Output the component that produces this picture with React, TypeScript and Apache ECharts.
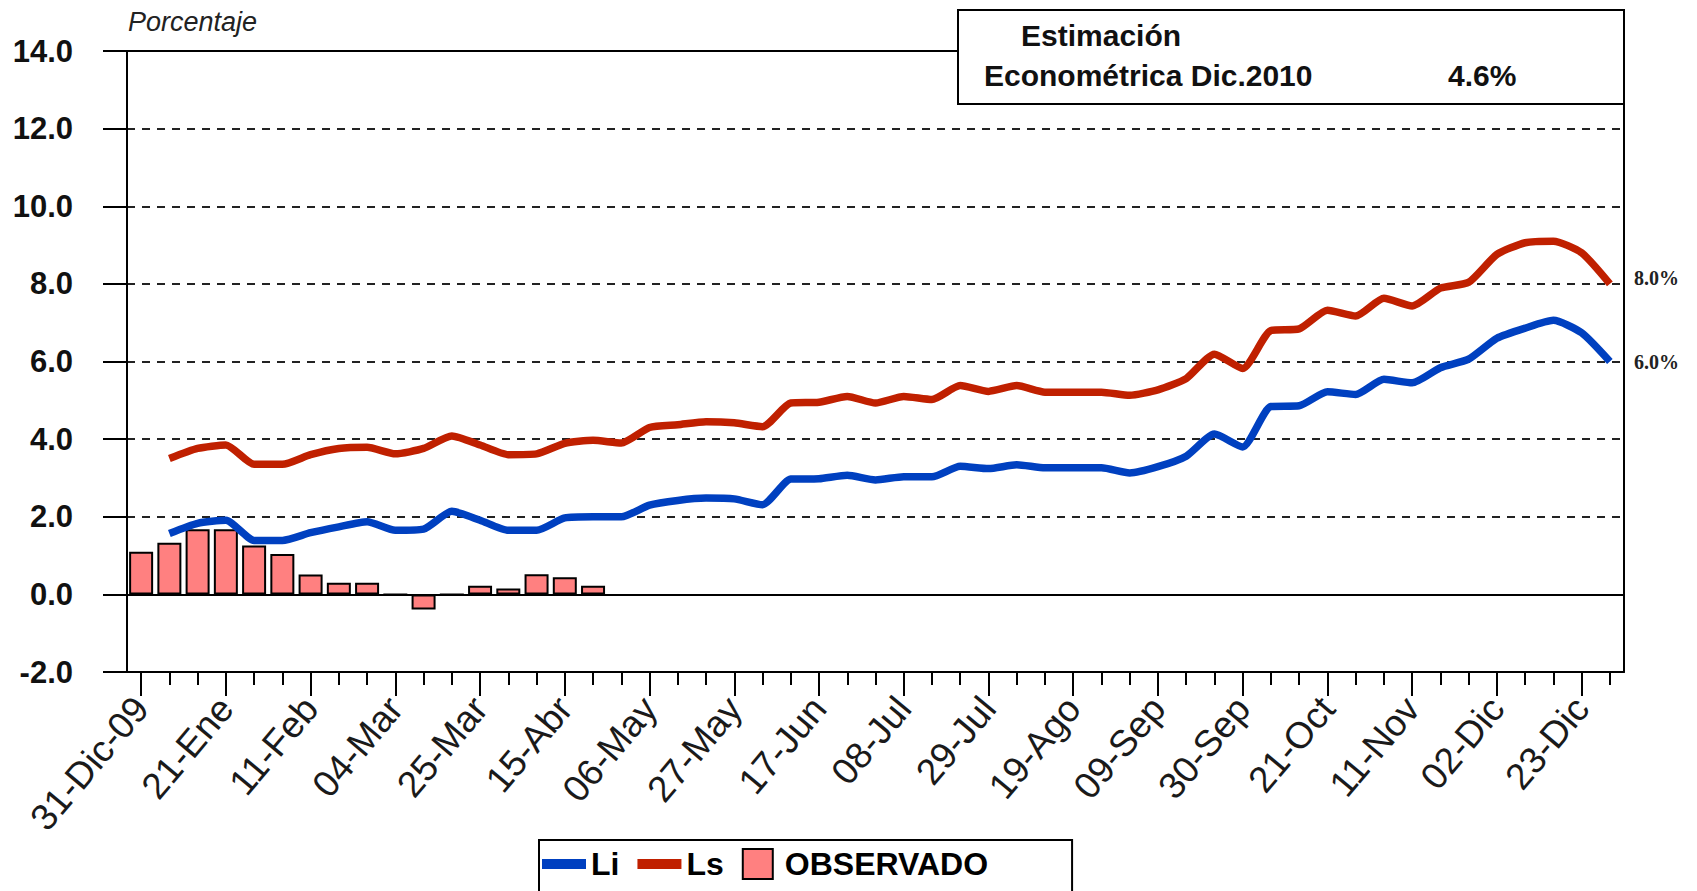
import React, { useEffect, useRef } from "react";
import * as echarts from "echarts";

const weeks = [
  "31-Dic-09", "07-Ene", "14-Ene", "21-Ene", "28-Ene", "04-Feb", "11-Feb", "18-Feb", "25-Feb",
  "04-Mar", "11-Mar", "18-Mar", "25-Mar", "01-Abr", "08-Abr", "15-Abr", "22-Abr", "29-Abr",
  "06-May", "13-May", "20-May", "27-May", "03-Jun", "10-Jun", "17-Jun", "24-Jun", "01-Jul",
  "08-Jul", "15-Jul", "22-Jul", "29-Jul", "05-Ago", "12-Ago", "19-Ago", "26-Ago", "02-Sep",
  "09-Sep", "16-Sep", "23-Sep", "30-Sep", "07-Oct", "14-Oct", "21-Oct", "28-Oct", "04-Nov",
  "11-Nov", "18-Nov", "25-Nov", "02-Dic", "09-Dic", "16-Dic", "23-Dic", "30-Dic",
];

const li = [
  null, 1.57, 1.83, 1.91, 1.39, 1.39, 1.59, 1.74, 1.87, 1.65, 1.68, 2.14, 1.91, 1.65, 1.65, 1.97,
  2.0, 2.0, 2.3, 2.42, 2.48, 2.46, 2.31, 2.97, 2.98, 3.07, 2.95, 3.03, 3.03, 3.3, 3.24, 3.34,
  3.26, 3.26, 3.26, 3.13, 3.29, 3.56, 4.13, 3.8, 4.84, 4.86, 5.22, 5.15, 5.54, 5.45, 5.84, 6.06,
  6.6, 6.86, 7.06, 6.74, 6.0,
];

const ls = [
  null, 3.5, 3.76, 3.85, 3.35, 3.35, 3.6, 3.76, 3.79, 3.62, 3.76, 4.08, 3.85, 3.6, 3.62, 3.89,
  3.97, 3.9, 4.3, 4.37, 4.45, 4.42, 4.32, 4.93, 4.95, 5.1, 4.93, 5.1, 5.02, 5.38, 5.23, 5.38,
  5.21, 5.21, 5.21, 5.13, 5.27, 5.56, 6.19, 5.82, 6.8, 6.84, 7.32, 7.17, 7.63, 7.43, 7.89, 8.04,
  8.76, 9.06, 9.1, 8.8, 8.0,
];

const observado = [
  1.1, 1.33, 1.68, 1.68, 1.26, 1.04, 0.51, 0.3, 0.3, 0, -0.39, 0, 0.22, 0.15, 0.52, 0.44, 0.22,
];

const yMin = -2;
const yMax = 14;
const yStep = 2;

const boxTitle = "Estimación";
const boxLine = "Econométrica Dic.2010";
const boxValue = "4.6%";
const yUnit = "Porcentaje";

const FONT = "'Liberation Sans', Arial, sans-serif";

export default function App() {
  const ref = useRef<HTMLDivElement>(null);

  useEffect(() => {
    document.body.style.margin = "0";
    const chart = echarts.init(ref.current as HTMLDivElement, null, { renderer: "svg" });
    const black = { color: "#000", width: 2 };
    const thinIcon = "path://M0 0H44V10H0Z";
    const squareIcon = "path://M0 0H10V10H0Z";

    const option: any = {
      animation: false,
      backgroundColor: "#fff",
      grid: { left: 127, right: 73, top: 51, bottom: 219, containLabel: false, outerBoundsMode: "none" },
      legend: {
        show: true,
        left: 539,
        top: 840,
        orient: "horizontal",
        itemWidth: 44,
        itemHeight: 30,
        itemGap: 18,
        padding: [8, 84, 40, 3],
        borderColor: "#000",
        borderWidth: 2,
        backgroundColor: "#fff",
        textStyle: { fontSize: 32, fontWeight: "bold", color: "#000", fontFamily: FONT },
        data: [
          { name: "Li", icon: thinIcon, itemStyle: { color: "#0040C0", borderWidth: 0 } },
          { name: "Ls", icon: thinIcon, itemStyle: { color: "#C02000", borderWidth: 0 } },
          { name: "OBSERVADO", icon: squareIcon, itemStyle: { color: "#FF8080", borderColor: "#000", borderWidth: 2 } },
        ],
      },
      xAxis: [
        {
          type: "category",
          data: weeks,
          boundaryGap: true,
          position: "bottom",
          axisLine: { show: true, onZero: false, lineStyle: black },
          axisTick: { show: true, alignWithLabel: true, interval: 2, length: 24, lineStyle: black },
          axisLabel: {
            interval: 2,
            rotate: 50,
            margin: 30,
            fontSize: 37,
            color: "#1a1a1a",
            fontFamily: FONT,
          },
          splitLine: { show: false },
        },
        {
          type: "category",
          data: weeks,
          boundaryGap: true,
          position: "bottom",
          axisLine: { show: false, onZero: false },
          axisTick: { show: true, alignWithLabel: true, interval: 0, length: 13, lineStyle: black },
          axisLabel: { show: false },
          splitLine: { show: false },
        },
        {
          type: "category",
          data: weeks,
          boundaryGap: true,
          position: "top",
          axisLine: { show: true, onZero: false, lineStyle: black },
          axisTick: { show: false },
          axisLabel: { show: false },
          splitLine: { show: false },
        },
      ],
      yAxis: [
        {
          type: "value",
          min: yMin,
          max: yMax,
          interval: yStep,
          position: "left",
          axisLine: { show: true, onZero: false, lineStyle: black },
          axisTick: { show: true, length: 24, lineStyle: black },
          axisLabel: {
            formatter: (v: number) => v.toFixed(1),
            fontSize: 31,
            fontWeight: "bold",
            margin: 54,
            color: "#111",
            fontFamily: FONT,
          },
          splitLine: { show: true, lineStyle: { type: [8, 7], color: "#222", width: 2 } },
        },
        {
          type: "value",
          min: yMin,
          max: yMax,
          interval: yStep,
          position: "right",
          axisLine: { show: true, onZero: false, lineStyle: black },
          axisTick: { show: false },
          axisLabel: { show: false },
          splitLine: { show: false },
        },
      ],
      series: [
        {
          name: "OBSERVADO",
          type: "bar",
          xAxisIndex: 0,
          yAxisIndex: 0,
          data: observado,
          barWidth: 24,
          itemStyle: { color: "#FF8080", borderColor: "#000", borderWidth: 2 },
          z: 2,
          markLine: {
            silent: true,
            symbol: ["none", "none"],
            label: { show: false },
            lineStyle: { type: "solid", color: "#000", width: 2 },
            data: [{ yAxis: 0 }],
          },
        },
        {
          name: "Li",
          type: "line",
          xAxisIndex: 0,
          yAxisIndex: 0,
          data: li,
          symbol: "none",
          smooth: 0.2,
          lineStyle: { color: "#0040C0", width: 7.5 },
          itemStyle: { color: "#0040C0" },
          z: 3,
          endLabel: {
            show: true,
            formatter: (p: any) => Number(p.value).toFixed(1) + "%",
            fontFamily: "'Liberation Serif', 'Times New Roman', serif",
            fontSize: 20,
            fontWeight: "bold",
            color: "#222",
            distance: 24,
          },
        },
        {
          name: "Ls",
          type: "line",
          xAxisIndex: 0,
          yAxisIndex: 0,
          data: ls,
          symbol: "none",
          smooth: 0.2,
          lineStyle: { color: "#C02000", width: 7.5 },
          itemStyle: { color: "#C02000" },
          z: 3,
          endLabel: {
            show: true,
            formatter: (p: any) => Number(p.value).toFixed(1) + "%",
            fontFamily: "'Liberation Serif', 'Times New Roman', serif",
            fontSize: 20,
            fontWeight: "bold",
            color: "#222",
            distance: 24,
            offset: [0, -6],
          },
        },
      ],
      graphic: [
        {
          type: "text",
          left: 128,
          top: 8,
          style: {
            text: yUnit,
            font: "italic 27px " + FONT,
            fill: "#222",
          },
          z: 100,
        },
        {
          type: "rect",
          shape: { x: 958, y: 10, width: 666, height: 94 },
          style: { fill: "#fff", stroke: "#000", lineWidth: 2 },
          z: 100,
        },
        {
          type: "text",
          x: 1021,
          y: 35,
          style: {
            text: boxTitle,
            font: "bold 30px " + FONT,
            fill: "#111",
            verticalAlign: "middle",
          },
          z: 101,
        },
        {
          type: "text",
          x: 984,
          y: 75,
          style: {
            text: boxLine,
            font: "bold 30px " + FONT,
            fill: "#111",
            verticalAlign: "middle",
          },
          z: 101,
        },
        {
          type: "text",
          x: 1448,
          y: 75,
          style: {
            text: boxValue,
            font: "bold 30px " + FONT,
            fill: "#111",
            verticalAlign: "middle",
          },
          z: 101,
        },
      ],
    };

    chart.setOption(option);
    return () => chart.dispose();
  }, []);

  return <div ref={ref} style={{ width: 1697, height: 891 }} />;
}
